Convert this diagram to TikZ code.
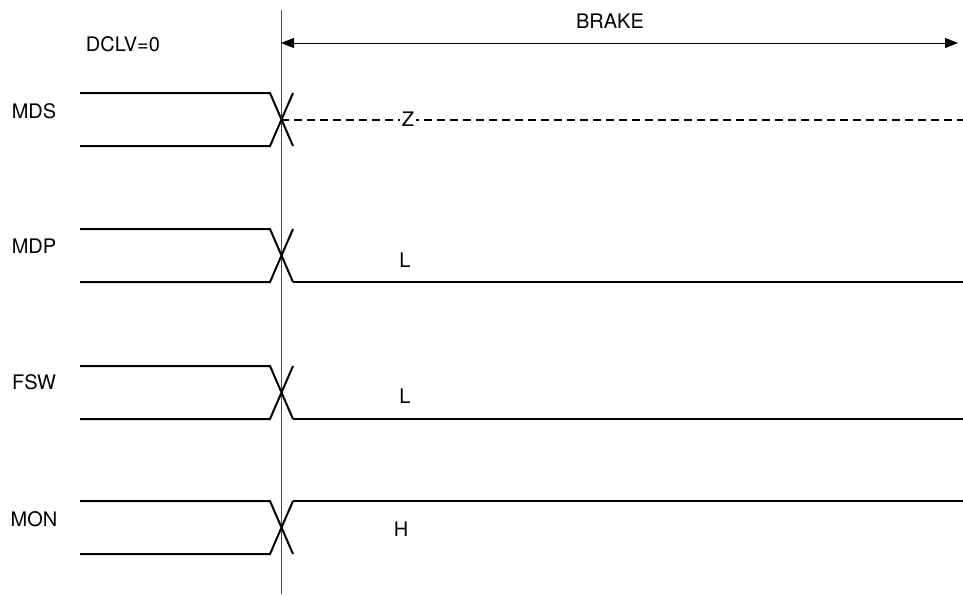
\documentclass[tikz,border=0pt]{standalone}
\usepackage{fontspec}
\setmainfont{TeX Gyre Heros}
\usetikzlibrary{arrows.meta}

\begin{document}
\begin{tikzpicture}[x=0.5pt,y=-0.5pt,font=\fontsize{10}{12}\selectfont,
  sig/.style={line width=1pt},
  zline/.style={line width=0.8pt,dash pattern=on 4pt off 2.5pt},
  markline/.style={draw=black!70,line width=0.5pt},
  span/.style={line width=0.5pt,{Triangle[length=6.5pt,width=5pt]}-{Triangle[length=6.5pt,width=5pt]}}]
\useasboundingbox (0,0) rectangle (963,595);

% time marker and brake interval
\coordinate (mtop) at (281,10);
\coordinate (mbot) at (281,594);
\draw[markline] (mtop) -- (mbot);
\coordinate (brk0) at (281,43);
\coordinate (brk1) at (958,43);
\draw[span] (brk0) -- (brk1);
\node (brake) at (610,21) {BRAKE};
\node (dclv) at (123,44) {DCLV=0};

% signals before the marker: name/top level/label y
\foreach \sname/\ty/\ly in {MDS/93/111, MDP/229/246, FSW/366/382, MON/501/519} {
  \node (\sname) at (34,\ly) {\sname};
  \draw[sig] (80,\ty) -- (270,\ty) -- (293,{\ty+53});
  \draw[sig] (80,{\ty+53}) -- (270,{\ty+53}) -- (293,\ty);
}

% levels after the marker
\coordinate (mds0) at (281,120);
\coordinate (mds1) at (963,120);
\draw[zline] (mds0) -- (mds1);
\node[fill=white,inner sep=1pt] (mdsZ) at (408,119) {Z};

\coordinate (mdp0) at (293,282);
\coordinate (mdp1) at (963,282);
\draw[sig] (mdp0) -- (mdp1);
\node (mdpL) at (405,260) {L};

\coordinate (fsw0) at (293,419);
\coordinate (fsw1) at (963,419);
\draw[sig] (fsw0) -- (fsw1);
\node (fswL) at (405,396) {L};

\coordinate (mon0) at (293,501);
\coordinate (mon1) at (963,501);
\draw[sig] (mon0) -- (mon1);
\node (monH) at (401,529) {H};
\end{tikzpicture}
\end{document}
